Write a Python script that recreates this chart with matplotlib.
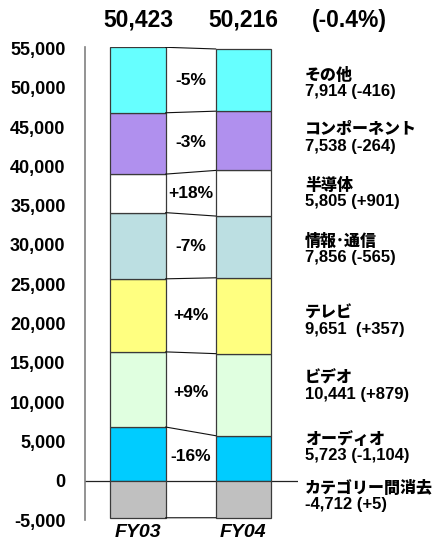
import matplotlib
matplotlib.use("Agg")
import matplotlib.pyplot as plt
import numpy as np

plt.rcParams['font.family'] = ['Liberation Sans', 'Noto Sans CJK JP', 'DejaVu Sans']
plt.rcParams['font.weight'] = 'bold'

# segments, bottom to top (last one is the negative elimination)
segments = ['オーディオ', 'ビデオ', 'テレビ', '情報･通信', '半導体', 'コンポーネント', 'その他']
fy04 = [5723, 10441, 9651, 7856, 5805, 7538, 7914]
change = [-1104, 879, 357, -565, 901, -264, -416]
colors = ['#00CCFF', '#E0FFE0', '#FFFF80', '#BCDFE2', '#FFFFFF', '#B090EE', '#66FFFF']

elim_name = 'カテゴリー間消去'
elim_fy04 = -4712
elim_change = 5
elim_color = '#C0C0C0'

years = ['FY03', 'FY04']

# label nudges (pixels, positive = down) so right-hand labels sit like the original
label_nudge = [-11, -8.5, 5.5, 2.5, 0, -2.5, 3]
elim_nudge = -3

fy04 = np.array(fy04)
change = np.array(change)
fy03 = fy04 - change
elim_fy03 = elim_fy04 - elim_change

fig = plt.figure(figsize=(4.37, 5.41), dpi=100)
ax = fig.add_axes([85 / 437, 21 / 541, 213 / 437, 472.7 / 541])

w = 0.526
xs = [0, 1]
top03 = np.cumsum(fy03)
top04 = np.cumsum(fy04)
bot03 = top03 - fy03
bot04 = top04 - fy04

for i in range(len(segments)):
    ax.bar(xs, [fy03[i], fy04[i]], width=w, bottom=[bot03[i], bot04[i]],
           color=colors[i], edgecolor='#3a3a3a', linewidth=0.9, zorder=2)
ax.bar(xs, [elim_fy03, elim_fy04], width=w, bottom=0,
       color=elim_color, edgecolor='#3a3a3a', linewidth=0.9, zorder=2)

# connector lines between the two bars
for a, b in list(zip(top03, top04)) + [(elim_fy03, elim_fy04)]:
    ax.plot([w / 2, 1 - w / 2], [a, b], color='#111111', lw=0.8, zorder=3)

ax.axhline(0, color='#222222', lw=0.9, zorder=1)

# percent change in the gap
for i in range(len(segments)):
    pct = change[i] / fy03[i] * 100
    ymid = ((bot03[i] + top03[i]) / 2 + (bot04[i] + top04[i]) / 2) / 2
    ax.text(0.5, ymid, f"{pct:+.0f}%", ha='center', va='center',
            fontsize=12.5, fontweight='bold', zorder=4)

# right-hand labels
px = 60140 / 472.7  # data units per pixel
lx = 1 + w / 2 + 0.32
names = segments + [elim_name]
vals = list(fy04) + [elim_fy04]
chgs = list(change) + [elim_change]
centers = list((bot04 + top04) / 2) + [elim_fy04 / 2]
nudges = label_nudge + [elim_nudge]
for n, v, c, yc, nd in zip(names, vals, chgs, centers, nudges):
    yc = yc - nd * px
    ax.text(lx, yc + 8.5 * px, n, ha='left', va='center', fontsize=11.5,
            fontweight='heavy', family=['Noto Sans CJK JP'], clip_on=False)
    sep = '  ' if n == 'テレビ' else ' '
    ax.text(lx, yc - 8.5 * px, f"{v:,}{sep}({c:+,})", ha='left', va='center',
            fontsize=12, fontweight='bold', clip_on=False)

# totals on top
tot03 = top03[-1] + elim_fy03
tot04 = top04[-1] + elim_fy04
ytop = top03[-1] + 27 * px
ax.text(0, ytop, f"{tot03:,}", ha='center', va='center', fontsize=16.5, fontweight='bold', clip_on=False)
ax.text(1, ytop, f"{tot04:,}", ha='center', va='center', fontsize=16.5, fontweight='bold', clip_on=False)
ax.text(2.0, ytop, f"({(tot04 - tot03) / tot03 * 100:.1f}%)", ha='center', va='center',
        fontsize=16.5, fontweight='bold', clip_on=False)

ax.set_xlim(-0.502, 1.517)
ax.set_ylim(-5000, 55140)
ax.set_yticks(np.arange(-5000, 55001, 5000))
ax.set_yticklabels([f"{t:,}" for t in range(-5000, 55001, 5000)], fontsize=13, fontweight='bold')
ax.tick_params(axis='y', length=0, pad=14)
ax.set_xticks(xs)
ax.set_xticklabels(years, fontsize=14, fontweight='bold', style='italic')
ax.tick_params(axis='x', length=0, pad=3)

for s in ['top', 'right', 'bottom']:
    ax.spines[s].set_visible(False)
ax.spines['left'].set_color('#808080')
ax.spines['left'].set_linewidth(1.2)

fig.savefig('out.png', dpi=100)
